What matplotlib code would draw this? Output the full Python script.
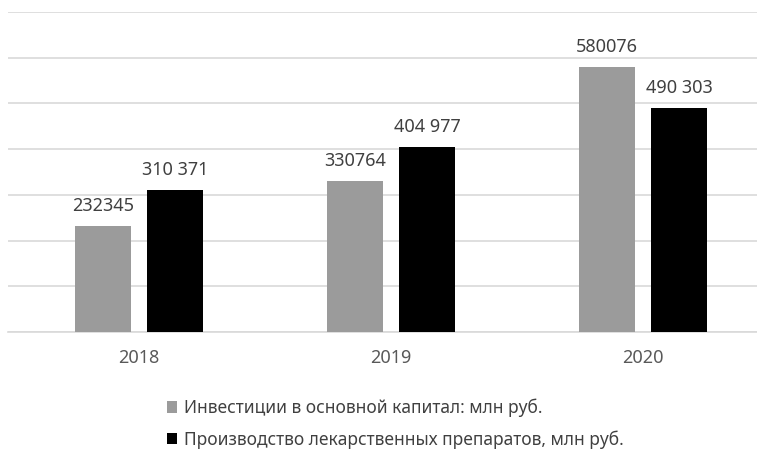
import matplotlib
matplotlib.use("Agg")
import matplotlib.pyplot as plt
import numpy as np

categories = ["2018", "2019", "2020"]
invest = [232345, 330764, 580076]
produce = [310371, 404977, 490303]
invest_labels = ["232345", "330764", "580076"]
produce_labels = ["310 371", "404 977", "490 303"]
series_names = ["Инвестиции в основной капитал: млн руб.",
                "Производство лекарственных препаратов, млн руб."]

plt.rcParams['font.family'] = ['Noto Sans', 'DejaVu Sans']

fig = plt.figure(figsize=(7.57, 4.5), dpi=100)
ax = fig.add_axes([8/757, 1-332/450, 1-8/757, (332-12)/450])

x = np.arange(len(categories))
w = 0.225
off = 0.143
b1 = ax.bar(x - off, invest, w, color="#9b9b9b", label=series_names[0], zorder=3)
b2 = ax.bar(x + off, produce, w, color="#000000", label=series_names[1], zorder=3)

for rect, lab in zip(b1, invest_labels):
    ax.annotate(lab, (rect.get_x() + rect.get_width()/2, rect.get_height()),
                xytext=(0, 8), textcoords="offset points", ha="center", va="bottom",
                fontsize=13, color="#404040")
for rect, lab in zip(b2, produce_labels):
    ax.annotate(lab, (rect.get_x() + rect.get_width()/2, rect.get_height()),
                xytext=(0, 8), textcoords="offset points", ha="center", va="bottom",
                fontsize=13, color="#404040")

ax.set_ylim(0, 700000)
ax.set_xlim(-0.52, 2.452)
ax.set_yticks(np.arange(0, 700001, 100000))
ax.yaxis.grid(True, color="#d9d9d9", linewidth=1.2, zorder=0)
ax.set_yticklabels([])
ax.tick_params(axis="y", length=0)
ax.set_xticks(x)
ax.set_xticklabels(categories, fontsize=13, color="#595959")
ax.tick_params(axis="x", length=0, pad=12)
for s in ["top", "right", "left"]:
    ax.spines[s].set_visible(False)
ax.spines["bottom"].set_color("#d9d9d9")
ax.spines["bottom"].set_linewidth(1.2)

leg = fig.legend(handles=[b1, b2], loc="upper left", bbox_to_anchor=(151/757, 1-383/450),
                 frameon=False, fontsize=12.5, labelcolor="#404040",
                 handlelength=0.6, handleheight=0.6, handletextpad=0.4,
                 labelspacing=0.75)

fig.savefig("out.png", dpi=100)
